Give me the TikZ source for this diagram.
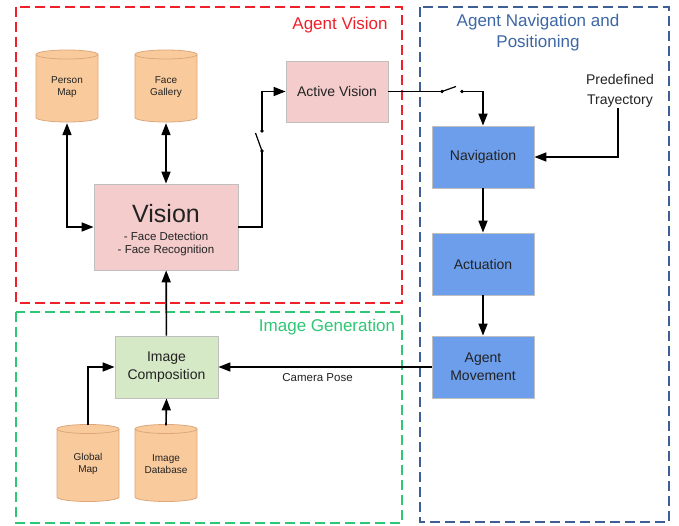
\documentclass[tikz,border=0pt]{standalone}
\usepackage{fontspec}
\setmainfont{Liberation Sans}
\usetikzlibrary{arrows.meta}
\definecolor{pinkfill}{HTML}{F4CCCC}
\definecolor{bluefill}{HTML}{6D9EEB}
\definecolor{greenfill}{HTML}{D6E9C6}
\definecolor{cylfill}{HTML}{F9CB9C}
\definecolor{cylline}{HTML}{DDA77A}
\definecolor{redgroup}{HTML}{F0202A}
\definecolor{greengroup}{HTML}{2EC774}
\definecolor{bluegroup}{HTML}{3E5F95}
\definecolor{bluetitle}{HTML}{3D67A6}
\definecolor{txt}{HTML}{222222}
\newcommand\dbcyl[5]{%
  \begin{scope}[shift={(#2,#3)}]
    \filldraw[cylshape] (-31pt,{#4/2-4.5}) arc[start angle=180,end angle=0,x radius=31pt,y radius=4.5pt]
      -- (31pt,{-#4/2+4.5}) arc[start angle=0,end angle=-180,x radius=31pt,y radius=4.5pt] -- cycle;
    \draw[cylshape] (-31pt,{#4/2-4.5}) arc[start angle=180,end angle=360,x radius=31pt,y radius=4.5pt];
  \end{scope}
  \node[cyltext, minimum width=62pt, minimum height=#4pt] (#1) at (#2,{#3-1}) {#5};
}
\begin{document}
\begin{tikzpicture}[x=1pt,y=1pt,
  group/.style={line width=2pt, dash pattern=on 10pt off 5pt},
  grouptitle/.style={font=\fontsize{17}{21}\selectfont, align=center},
  pinkbox/.style={draw=black!25, fill=pinkfill, line width=0.8pt, text=txt, font=\fontsize{14}{18}\selectfont, align=center, inner sep=0pt},
  bluebox/.style={draw=black!25, fill=bluefill, line width=0.8pt, text=txt, font=\fontsize{14}{18}\selectfont, align=center, minimum width=102pt, minimum height=62pt, inner sep=0pt},
  greenbox/.style={draw=black!25, fill=greenfill, line width=0.8pt, text=txt, font=\fontsize{14}{18}\selectfont, align=center, minimum width=103pt, minimum height=62pt, inner sep=0pt},
  cylshape/.style={fill=cylfill, draw=cylline, line width=0.8pt},
  cyltext/.style={text=txt, font=\fontsize{10}{12.5}\selectfont, align=center, inner sep=0pt},
  conn/.style={line width=1.6pt, -{Triangle[length=12pt,width=9pt]}},
  bconn/.style={line width=1.6pt, {Triangle[length=12pt,width=9pt]}-{Triangle[length=12pt,width=9pt]}},
  plain/.style={line width=1.6pt},
  swdot/.style={circle, fill=black, inner sep=0pt, minimum size=3.6pt},
  lbl/.style={text=txt, font=\fontsize{11.5}{14}\selectfont, align=center, inner sep=0pt}
]
\useasboundingbox (0,0) rectangle (679,525);
\fill[white] (0,0) rectangle (679,525);

% group frames
\draw[group, draw=bluegroup] (420,518) rectangle (669,3);
\draw[group, draw=greengroup] (16,213) rectangle (402,2);
\draw[group, draw=redgroup] (16,518) rectangle (402,222);

\node[grouptitle, text=redgroup] (tv) at (340,500) {Agent Vision};
\node[grouptitle, text=bluetitle] (tn) at (538,492) {Agent Navigation and\\Positioning};
\node[grouptitle, text=greengroup] (tg) at (327,198) {Image Generation};

% databases
\dbcyl{pm}{67}{439}{72}{Person\\Map}
\dbcyl{fg}{166}{439}{72}{Face\\Gallery}
\dbcyl{gm}{88}{62}{77}{Global\\Map}
\dbcyl{idb}{166}{62}{77}{Image\\Database}

% boxes
\node[pinkbox, minimum width=144pt, minimum height=86pt, font=\fontsize{11.5}{13.5}\selectfont] (vis) at (166,298)
  {{\fontsize{25}{26}\selectfont\rule{0pt}{24pt}Vision}\\[4.5pt]- Face Detection\\- Face Recognition};
\node[pinkbox, minimum width=102pt, minimum height=61pt] (av) at (337,433.5) {Active Vision};
\node[bluebox] (nav) at (483,368) {Navigation};
\node[bluebox] (act) at (483,261) {Actuation};
\node[bluebox] (am) at (483,158) {Agent\\Movement};
\node[greenbox] (ic) at (166.5,158) {Image\\Composition};
\node[lbl, font=\fontsize{14}{20}\selectfont] (pt) at (620,434) {Predefined\\Trayectory};

% switches
\node[swdot] (s1a) at (262,374) {};
\node[swdot] (s1b) at (262,394) {};
\coordinate (s1l) at (255.5,392);
\node[swdot] (s2a) at (442,433.5) {};
\node[swdot] (s2b) at (462,433.5) {};
\coordinate (s2l) at (456,438.5);

% connectors
\draw[bconn] (pm.south) |- (vis.west);
\draw[bconn] (fg.south) -- (vis.north);
\draw[plain] (vis.east) -| (s1a.center);
\draw[line width=1.2pt] (s1a.center) -- (s1l);
\draw[conn] (s1b.center) |- (av.west);
\draw[plain] (av.east) -- (s2a.center);
\draw[line width=1.2pt] (s2a.center) -- (s2l);
\draw[conn] (s2b.center) -| (nav.north);
\draw[conn] ([xshift=-2pt]pt.south) |- (nav.east);
\draw[conn] (nav) -- (act);
\draw[conn] (act) -- (am);
\draw[conn] (am) -- (ic) node[lbl, pos=0.535, below=6pt] (cp) {Camera Pose};
\draw[conn] (ic) -- (vis);
\draw[conn] (gm.north) |- (ic.west);
\draw[conn] (idb.north) -- (ic.south);
\end{tikzpicture}
\end{document}
